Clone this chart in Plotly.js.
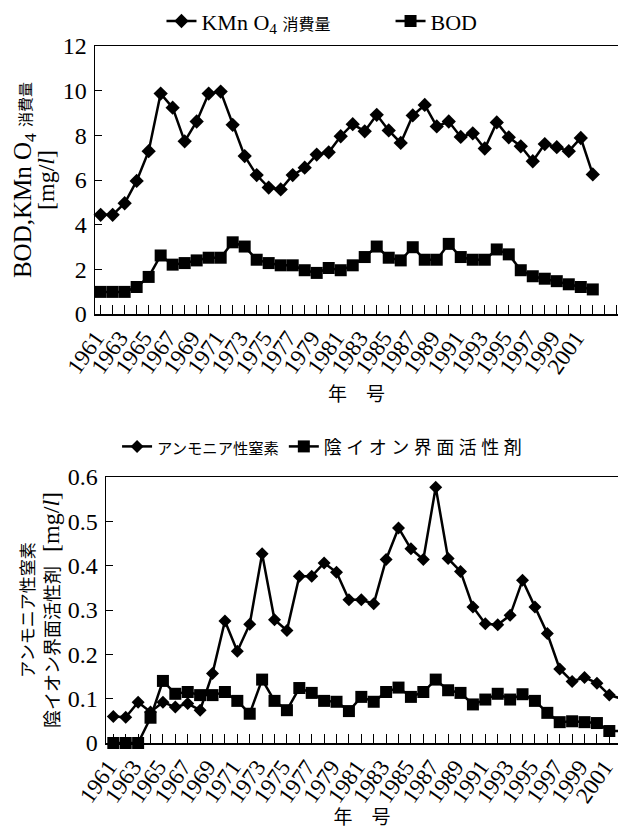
<!DOCTYPE html>
<html>
<head>
<meta charset="utf-8">
<script src="https://cdn.plot.ly/plotly-3.0.1.min.js"></script>
<style>
html,body{margin:0;padding:0;background:#fff;overflow:hidden;}
#top,#bot{width:618px;height:414px;}
</style>
</head>
<body>
<div id="top"></div>
<div id="bot"></div>
<script>
const years = [1961,1962,1963,1964,1965,1966,1967,1968,1969,1970,
  1971,1972,1973,1974,1975,1976,1977,1978,1979,1980,
  1981,1982,1983,1984,1985,1986,1987,1988,1989,1990,
  1991,1992,1993,1994,1995,1996,1997,1998,1999,2000,
  2001,2002];
const tickYears = [1961,1963,1965,1967,1969,1971,1973,1975,1977,1979,1981,1983,1985,1987,1989,1991,1993,1995,1997,1999,2001];

const kmno4 = [4.44,4.44,4.96,5.96,7.29,9.87,9.24,7.73,8.62,9.87,
  9.96,8.47,7.07,6.22,5.66,5.58,6.22,6.55,7.14,7.24,
  7.96,8.50,8.18,8.92,8.22,7.66,8.89,9.36,8.40,8.62,
  7.93,8.09,7.41,8.58,7.91,7.51,6.84,7.61,7.47,7.29,
  7.88,6.25];
const bod = [0.99,0.99,0.99,1.21,1.66,2.62,2.21,2.28,2.40,2.52,
  2.52,3.21,3.02,2.43,2.28,2.18,2.18,1.96,1.84,2.06,
  1.96,2.18,2.55,3.02,2.52,2.40,2.99,2.43,2.43,3.14,
  2.55,2.43,2.43,2.89,2.67,1.96,1.69,1.58,1.47,1.33,
  1.21,1.10];
const ammonia = [0.060,0.058,0.092,0.070,0.092,0.081,0.089,0.074,0.157,0.275,
  0.207,0.268,0.427,0.278,0.254,0.376,0.376,0.406,0.385,0.323,
  0.323,0.314,0.414,0.485,0.438,0.414,0.577,0.416,0.387,0.307,
  0.269,0.267,0.288,0.367,0.307,0.247,0.167,0.139,0.148,0.135,
  0.108,0.100];
const surfactant = [0,0,0,0.057,0.140,0.111,0.115,0.108,0.108,0.115,
  0.095,0.066,0.143,0.095,0.074,0.124,0.113,0.095,0.093,0.072,
  0.104,0.093,0.115,0.125,0.104,0.115,0.143,0.119,0.113,0.087,
  0.098,0.111,0.098,0.110,0.095,0.068,0.047,0.049,0.047,0.045,
  0.027,0.027];

const FONT = "'Liberation Serif', 'Noto Sans CJK JP', serif";
const sz = (s, px) => '<span style="font-size:' + px + 'px">' + s + '</span>';
const NB = n => '\u00a0'.repeat(n);

function xaxis(range){
  return {
    range: range, showline: true, linecolor: '#000', linewidth: 1.5, mirror: true,
    showgrid: false, zeroline: false,
    tickmode: 'array', tickvals: tickYears, ticktext: tickYears.map(String),
    ticks: 'inside', ticklen: 9, tickwidth: 1, tickcolor: '#000',
    minor: {dtick: 1, tick0: 1961, ticks: 'inside', ticklen: 9, tickwidth: 1, tickcolor: '#000'},
    tickangle: -55, ticklabelshift: -5, ticklabeloverflow: 'allow',
    tickfont: {family: FONT, size: 23, color: '#000'},
    title: {text: '年　号', font: {family: FONT, size: 19, color: '#000'}, standoff: 10}
  };
}
function yaxis(range, dtick, titleText, baseSize, standoff){
  return {
    range: range, dtick: dtick, showline: true, linecolor: '#000', linewidth: 1.5,
    showgrid: false, zeroline: false,
    ticks: 'inside', ticklen: 7, tickwidth: 1, tickcolor: '#000',
    ticklabelstandoff: 2,
    tickfont: {family: FONT, size: 24, color: '#000'},
    title: {text: titleText, font: {family: FONT, size: baseSize, color: '#000'}, standoff: standoff}
  };
}
function trace(y, name, symbol, size){
  return {
    x: years, y: y, name: name, type: 'scatter', mode: 'lines+markers',
    line: {color: '#000', width: 2.5},
    marker: {symbol: symbol, size: size, color: '#000'},
    cliponaxis: false
  };
}

Plotly.newPlot('top', [
  trace(kmno4, 'KMn O<sub>4</sub> ' + sz('消費量', 16) + NB(10), 'diamond', 11),
  trace(bod, 'BOD', 'square', 12)
], {
  width: 618, height: 414,
  margin: {l: 95, r: 0, t: 44, b: 100},
  paper_bgcolor: '#fff', plot_bgcolor: '#fff',
  font: {family: FONT, color: '#000'},
  xaxis: xaxis([1960.53, 2004.1]),
  yaxis: yaxis([0, 12], 2,
    sz('BOD,KMn O<sub>4</sub> ', 25) + sz('消費量', 15) + '<br>' + sz('[mg/<i>l</i>]', 24), 18, 3),
  showlegend: true,
  legend: {orientation: 'h', x: 0.434, xanchor: 'center', y: 1.0926, yanchor: 'middle',
    font: {family: FONT, size: 22, color: '#000'}, bgcolor: 'rgba(0,0,0,0)'}
}, {staticPlot: true});

Plotly.newPlot('bot', [
  trace(ammonia, sz('アンモニア性窒素', 15.3), 'diamond', 10),
  trace(surfactant, sz('陰\u2005イ\u2005オ\u2005ン\u2005界\u2005面\u2005活\u2005性\u2005剤', 18), 'square', 12)
], {
  width: 618, height: 414,
  margin: {l: 106, r: 0, t: 63, b: 85},
  paper_bgcolor: '#fff', plot_bgcolor: '#fff',
  font: {family: FONT, color: '#000'},
  xaxis: xaxis([1960.41, 2001.7]),
  yaxis: yaxis([0, 0.6], 0.1,
    sz('アンモニア性窒素', 17) + '<br>' + sz('陰イオン界面活性剤', 18) + NB(3) + sz('[mg/<i>l</i>]', 24), 19, 3),
  showlegend: true,
  legend: {orientation: 'h', x: 0.422, xanchor: 'center', y: 1.115, yanchor: 'middle',
    font: {family: FONT, size: 20, color: '#000'}, bgcolor: 'rgba(0,0,0,0)'}
}, {staticPlot: true});
</script>
</body>
</html>
